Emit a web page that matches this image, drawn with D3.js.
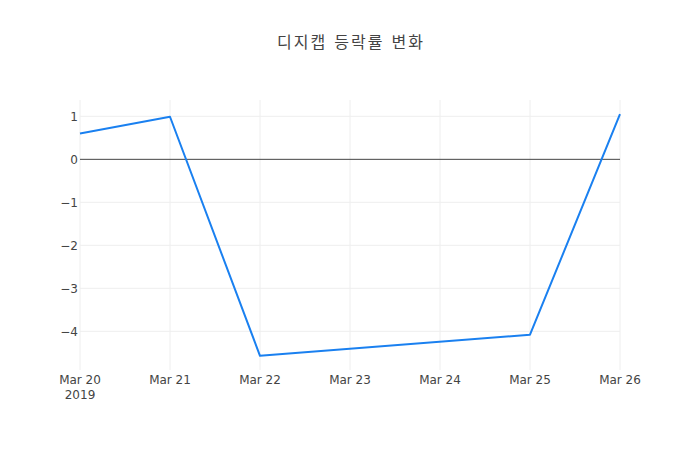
<!DOCTYPE html>
<html>
<head>
<meta charset="utf-8">
<script src="https://cdn.jsdelivr.net/npm/d3@7"></script>
<style>
  body { margin: 0; background: #fff; }
  text { font-family: "DejaVu Sans", "Noto Sans CJK KR", sans-serif; fill: #444; }
</style>
</head>
<body>
<div class="chart"></div>
<script>
// 디지캡 daily change (%), trading days only
var dates = ["2019-03-20", "2019-03-21", "2019-03-22", "2019-03-25", "2019-03-26"];
var changes = [0.60, 0.99, -4.57, -4.08, 1.05];
var yTicks = [1, 0, -1, -2, -3, -4];
var title = "디지캡 등락률 변화";

var svgWidth = 700;
var svgHeight = 450;
var margin = { top: 100, right: 80, bottom: 80, left: 80 };
var width = svgWidth - margin.left - margin.right;
var height = svgHeight - margin.top - margin.bottom;

var parse = d3.utcParse("%Y-%m-%d");
var data = dates.map(function(d, i) {
    return { date: parse(d), value: changes[i] };
});

var svg = d3.select(".chart")
    .append("svg")
    .attr("width", svgWidth)
    .attr("height", svgHeight);

var chart = svg.append("g")
    .attr("transform", "translate(" + margin.left + "," + margin.top + ")");

var x = d3.scaleUtc()
    .domain([parse("2019-03-20"), parse("2019-03-26")])
    .range([0, width]);

var y = d3.scaleLinear()
    .domain([-4.90, 1.38])
    .range([height, 0]);

var xTicks = d3.utcDay.range(parse("2019-03-20"), d3.utcDay.offset(parse("2019-03-26"), 1));
var fmt = d3.utcFormat("%b %-d");

// grid
chart.selectAll(".vgrid")
    .data(xTicks)
    .enter()
    .append("line")
    .attr("x1", function(d) { return x(d); })
    .attr("x2", function(d) { return x(d); })
    .attr("y1", 0)
    .attr("y2", height)
    .attr("stroke", "#eee")
    .attr("stroke-width", 1);

chart.selectAll(".hgrid")
    .data(yTicks.filter(function(t) { return t !== 0; }))
    .enter()
    .append("line")
    .attr("x1", 0)
    .attr("x2", width)
    .attr("y1", function(d) { return y(d); })
    .attr("y2", function(d) { return y(d); })
    .attr("stroke", "#eee")
    .attr("stroke-width", 1);

// zero line
chart.append("line")
    .attr("x1", 0)
    .attr("x2", width)
    .attr("y1", y(0))
    .attr("y2", y(0))
    .attr("stroke", "#444")
    .attr("stroke-width", 1);

// y tick labels
chart.selectAll(".ylab")
    .data(yTicks)
    .enter()
    .append("text")
    .attr("x", -2)
    .attr("y", function(d) { return y(d); })
    .attr("dy", "0.35em")
    .attr("text-anchor", "end")
    .style("font-size", "12px")
    .text(function(d) { return d < 0 ? "\u2212" + Math.abs(d) : d; });

// x tick labels
chart.selectAll(".xlab")
    .data(xTicks)
    .enter()
    .append("text")
    .attr("x", function(d) { return x(d); })
    .attr("y", height + 13.5)
    .attr("text-anchor", "middle")
    .style("font-size", "12px")
    .text(function(d) { return fmt(d); });

chart.append("text")
    .attr("x", x(xTicks[0]))
    .attr("y", height + 29)
    .attr("text-anchor", "middle")
    .style("font-size", "12px")
    .text("2019");

// line
var line = d3.line()
    .x(function(d) { return x(d.date); })
    .y(function(d) { return y(d.value); });

chart.append("path")
    .datum(data)
    .attr("d", line)
    .attr("fill", "none")
    .attr("stroke", "#1a80f0")
    .attr("stroke-width", 2)
    .attr("stroke-linejoin", "round");

// title
svg.append("text")
    .attr("x", svgWidth / 2 + 1)
    .attr("y", 48)
    .attr("text-anchor", "middle")
    .style("font-size", "16px")
    .style("letter-spacing", "2px")
    .text(title);
</script>
</body>
</html>
